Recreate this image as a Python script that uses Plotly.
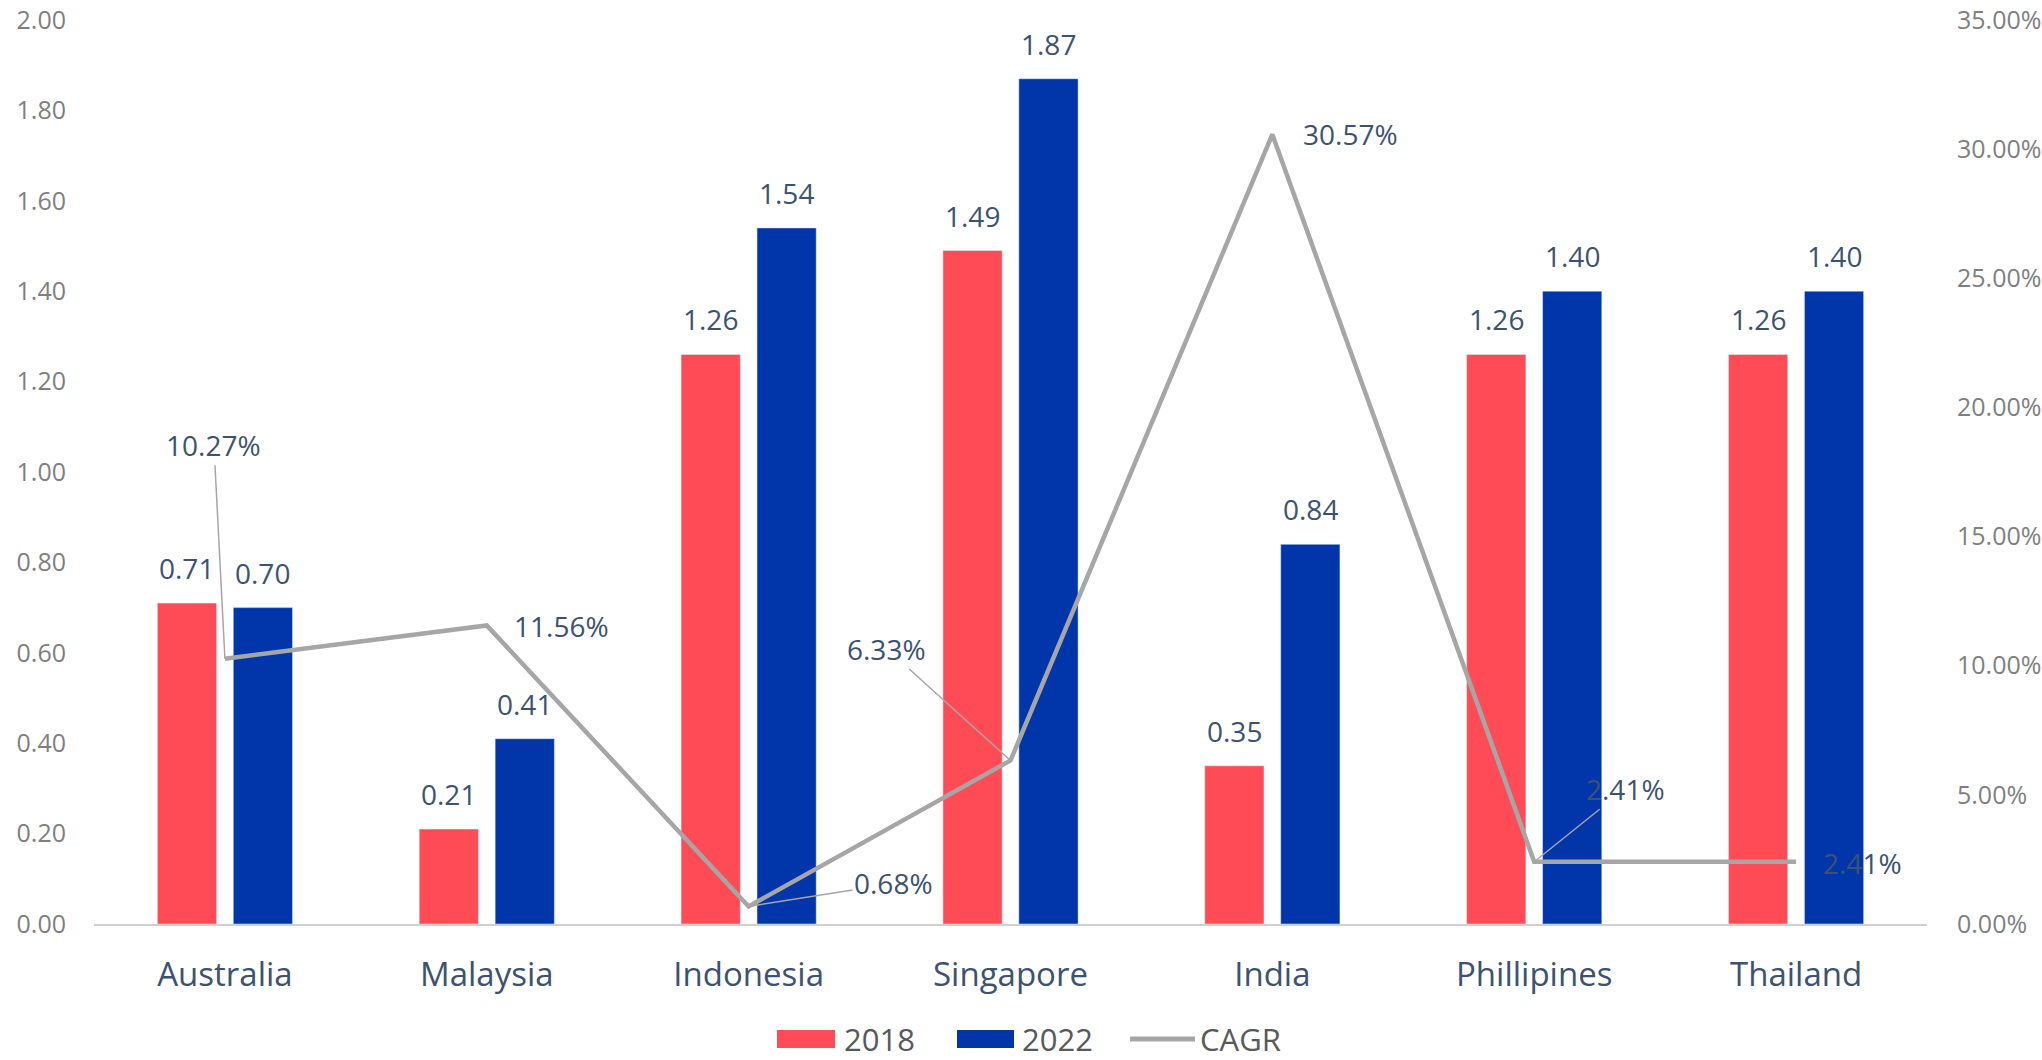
import plotly.graph_objects as go

countries = ["Australia", "Malaysia", "Indonesia", "Singapore", "India", "Phillipines", "Thailand"]
v2018 = [0.71, 0.21, 1.26, 1.49, 0.35, 1.26, 1.26]
v2022 = [0.70, 0.41, 1.54, 1.87, 0.84, 1.40, 1.40]
cagr = [0.1027, 0.1156, 0.0068, 0.0633, 0.3057, 0.0241, 0.0241]
left_ticks = [0, 0.2, 0.4, 0.6, 0.8, 1.0, 1.2, 1.4, 1.6, 1.8, 2.0]
right_ticks = [0, 0.05, 0.10, 0.15, 0.20, 0.25, 0.30, 0.35]
legend_names = ["2018", "2022", "CAGR"]

RED = "#FF4B55"
BLUE = "#0036AA"
GRAY = "#A6A6A6"
LABEL = "#3D5270"
TICK = "#7F7F7F"
FONT = "Open Sans"

W, H = 2042, 1060
ML, MR, MT, MB = 94, 115, 20, 136
BARGAP = 0.42
BARGROUPGAP = 0.22

fig = go.Figure()
fig.add_trace(go.Bar(x=countries, y=v2018, name="2018", marker_color=RED, showlegend=False))
fig.add_trace(go.Bar(x=countries, y=v2022, name="2022", marker_color=BLUE, showlegend=False))
fig.add_trace(go.Scatter(x=countries, y=cagr, name="CAGR", yaxis="y2", mode="lines",
                         line=dict(color=GRAY, width=4.5), showlegend=False))

plot_w = W - ML - MR
plot_h = H - MT - MB
cat_w = plot_w / len(countries)
slot = cat_w * (1 - BARGAP) / 2
shift = slot / 2
annotations = []
LBL = 28
for c, a, b in zip(countries, v2018, v2022):
    annotations.append(dict(x=c, y=a, xref="x", yref="y", text=f"{a:.2f}", showarrow=False,
                            xshift=-shift, yshift=35, yanchor="middle",
                            font=dict(family=FONT, size=LBL, color=LABEL)))
    annotations.append(dict(x=c, y=b, xref="x", yref="y", text=f"{b:.2f}", showarrow=False,
                            xshift=shift, yshift=35, yanchor="middle",
                            font=dict(family=FONT, size=LBL, color=LABEL)))

# CAGR labels: (ax, ay, leader line?)
cagr_offsets = [(-11, -214, True), (75, 1, False), (145, -23, True), (-124, -112, True),
                (78, 0, False), (91, -73, True), (66, 1, False)]
for c, v, (ax, ay, lead) in zip(countries, cagr, cagr_offsets):
    annotations.append(dict(x=c, y=v, xref="x", yref="y2", text=f"{v*100:.2f}%",
                            showarrow=True, ax=ax, ay=ay, arrowhead=0, standoff=0,
                            arrowwidth=1.5,
                            arrowcolor=GRAY if lead else "rgba(0,0,0,0)",
                            font=dict(family=FONT, size=LBL, color=LABEL)))

# custom legend (pixel layout converted to paper coords)
def px_x(px):
    return (px - ML) / plot_w

def px_y(py):
    return (H - MB - py) / plot_h

shapes = []
legend_keys = [("rect", RED, 777, 835, 843), ("rect", BLUE, 957, 1014, 1021),
               ("line", GRAY, 1130, 1195, 1199)]
LEG_Y = 1039
for name, (kind, col, x0, x1, tx) in zip(legend_names, legend_keys):
    if kind == "rect":
        shapes.append(dict(type="rect", xref="paper", yref="paper",
                           x0=px_x(x0), x1=px_x(x1), y0=px_y(LEG_Y - 9), y1=px_y(LEG_Y + 9),
                           fillcolor=col, line=dict(width=0)))
    else:
        shapes.append(dict(type="line", xref="paper", yref="paper",
                           x0=px_x(x0), x1=px_x(x1), y0=px_y(LEG_Y), y1=px_y(LEG_Y),
                           line=dict(color=col, width=5)))
    annotations.append(dict(x=px_x(tx), y=px_y(LEG_Y), xref="paper", yref="paper",
                            text=name, showarrow=False, xanchor="left", yanchor="middle",
                            borderpad=0,
                            font=dict(family=FONT, size=31, color="#595959")))

fig.update_layout(
    width=W, height=H,
    margin=dict(l=ML, r=MR, t=MT, b=MB, autoexpand=False),
    paper_bgcolor="white", plot_bgcolor="white",
    barmode="group", bargap=BARGAP, bargroupgap=BARGROUPGAP,
    showlegend=False,
    font=dict(family=FONT, color=TICK),
    xaxis=dict(showgrid=False, showline=True, linecolor="#D0D0D0", linewidth=2,
               ticks="outside", ticklen=20, tickcolor="rgba(0,0,0,0)", automargin=False,
               tickfont=dict(family=FONT, size=33, color=LABEL)),
    yaxis=dict(range=[0, 2.0], tickvals=left_ticks, tickformat=".2f", showgrid=False,
               zeroline=False, showline=False, ticks="outside", ticklen=22, automargin=False,
               tickcolor="rgba(0,0,0,0)", tickfont=dict(family=FONT, size=25, color=TICK)),
    yaxis2=dict(range=[0, 0.35], tickvals=right_ticks, tickformat=".2%", overlaying="y",
                side="right", showgrid=False, zeroline=False, showline=False, automargin=False,
                ticks="outside", ticklen=24, tickcolor="rgba(0,0,0,0)",
                tickfont=dict(family=FONT, size=25, color=TICK)),
    shapes=shapes,
    annotations=annotations,
)

fig.write_html("out.html")
